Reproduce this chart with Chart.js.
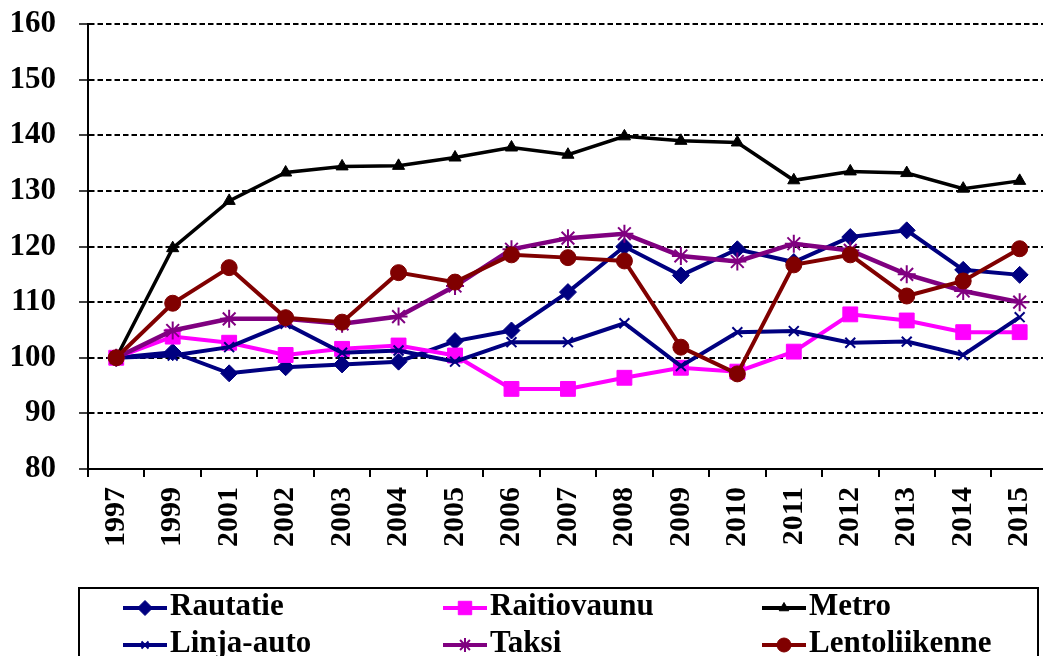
<!DOCTYPE html>
<html>
<head>
<meta charset="utf-8">
<script src="https://cdn.jsdelivr.net/npm/chart.js"></script>
<style>
html,body{margin:0;padding:0;background:#fff;overflow:hidden;}
#wrap{position:relative;width:1066px;height:656px;}
</style>
</head>
<body>
<div id="wrap"><canvas id="c"></canvas></div>
<script>
const years = ['1997','1999','2001','2002','2003','2004','2005','2006','2007','2008','2009','2010','2011','2012','2013','2014','2015'];
const rautatie     = [100, 101.0, 97.2, 98.3, 98.8, 99.3, 103.0, 104.9, 111.8, 120.0, 114.8, 119.5, 117.2, 121.7, 122.9, 115.8, 114.9];
const raitiovaunu  = [100, 103.8, 102.7, 100.5, 101.6, 102.2, 100.4, 94.4, 94.4, 96.4, 98.2, 97.5, 101.1, 107.8, 106.7, 104.6, 104.6];
const metro        = [100, 119.7, 128.2, 133.3, 134.4, 134.5, 136.0, 137.8, 136.5, 139.8, 139.0, 138.7, 131.9, 133.5, 133.2, 130.4, 131.8];
const linjaAuto    = [100, 100.4, 101.9, 106.1, 100.9, 101.3, 99.3, 102.8, 102.8, 106.2, 98.5, 104.6, 104.8, 102.7, 102.9, 100.5, 107.3];
const taksi        = [100, 104.9, 107.0, 107.0, 106.1, 107.4, 112.9, 119.5, 121.5, 122.3, 118.3, 117.3, 120.5, 119.3, 115.0, 112.0, 110.0];
const lentoliikenne= [100, 109.8, 116.2, 107.2, 106.4, 115.3, 113.6, 118.5, 118.0, 117.4, 101.9, 97.1, 116.7, 118.5, 111.1, 113.8, 119.6];
const seriesNames  = ['Rautatie','Raitiovaunu','Metro','Linja-auto','Taksi','Lentoliikenne'];
const yTicks = [80, 90, 100, 110, 120, 130, 140, 150, 160];

const FONT = '"Liberation Serif","Times New Roman",serif';

function ds(label, data, color, style, radius, order, bw) {
  return {
    label, data,
    borderColor: color, backgroundColor: color,
    pointBackgroundColor: color, pointBorderColor: color,
    borderWidth: bw || 4, pointStyle: style, pointRadius: radius,
    pointBorderWidth: (style === 'star' || style === 'crossRot') ? 2 : 1,
    tension: 0, fill: false, order
  };
}

const datasets = [
  ds(seriesNames[0], rautatie, '#000080', 'rectRot', 8.5, 5),
  ds(seriesNames[1], raitiovaunu, '#FF00FF', 'rect', 10.5, 4),
  ds(seriesNames[2], metro, '#000000', 'triangle', 7, 3, 3.5),
  ds(seriesNames[3], linjaAuto, '#000080', 'crossRot', 7, 2),
  ds(seriesNames[4], taksi, '#800080', 'star', 9, 1, 4.5),
  ds(seriesNames[5], lentoliikenne, '#800000', 'circle', 8, 0)
];

const legendMarkers = [
  {style:'rectRot', r:7.5}, {style:'rect', r:9.5}, {style:'triangle', r:5.5},
  {style:'crossRot', r:5}, {style:'star', r:7}, {style:'circle', r:7}
];

const boxLegend = {
  id: 'boxLegend',
  afterDraw(chart) {
    const ctx = chart.ctx;
    ctx.save();
    ctx.lineWidth = 2;
    ctx.strokeStyle = '#000';
    ctx.strokeRect(79, 588, 1038 - 79, 90);
    const cols = [123, 443, 762];
    const rows = [608, 645];
    chart.data.datasets.forEach((d, i) => {
      const x = cols[i % 3], y = rows[Math.floor(i / 3)];
      ctx.strokeStyle = d.borderColor;
      ctx.lineWidth = 4;
      ctx.beginPath(); ctx.moveTo(x, y); ctx.lineTo(x + 44, y); ctx.stroke();
      ctx.fillStyle = d.borderColor;
      const m = legendMarkers[i];
      ctx.lineWidth = (m.style==='star'||m.style==='crossRot') ? 2 : 1;
      Chart.helpers.drawPoint(ctx, {pointStyle: m.style, radius: m.r, rotation: 0, borderWidth: ctx.lineWidth}, x + 22, y);
      ctx.fillStyle = '#000';
      ctx.font = 'bold 31px ' + FONT;
      ctx.textBaseline = 'alphabetic';
      ctx.textAlign = 'left';
      ctx.fillText(d.label, x + 47, y + 7);
    });
    ctx.restore();
  }
};

new Chart(document.getElementById('c'), {
  type: 'line',
  data: { labels: years, datasets },
  plugins: [boxLegend],
  options: {
    responsive: true,
    maintainAspectRatio: false,
    animation: false,
    devicePixelRatio: 1,
    layout: { padding: { top: 24, left: 0, right: 0, bottom: 0 } },
    plugins: { legend: { display: false }, tooltip: { enabled: false } },
    scales: {
      x: {
        type: 'category',
        offset: true,
        afterFit(s) { s.height = 187; },
        grid: { display: true, offset: true, drawOnChartArea: false, drawTicks: true, tickLength: 8, color: '#000', lineWidth: 2 },
        border: { display: true, color: '#000', width: 2 },
        ticks: {
          autoSkip: false, minRotation: 90, maxRotation: 90, padding: 10,
          color: '#000', font: { family: FONT, size: 30, weight: 'bold' }
        }
      },
      y: {
        min: 80, max: 160,
        afterFit(s) { s.width = 88; s.paddingTop = 0; s.paddingBottom = 0; },
        afterBuildTicks(s) { s.ticks = yTicks.map(v => ({ value: v })); },
        grid: { color: '#000', lineWidth: 2, tickBorderDash: [], tickLength: 9, tickColor: '#000', tickWidth: 1.5 },
        border: { display: true, color: '#000', width: 2, dash: [5.5, 3] },
        ticks: {
          padding: 23, color: '#000',
          font: { family: FONT, size: 31, weight: 'bold' }
        }
      }
    }
  }
});
</script>
</body>
</html>
